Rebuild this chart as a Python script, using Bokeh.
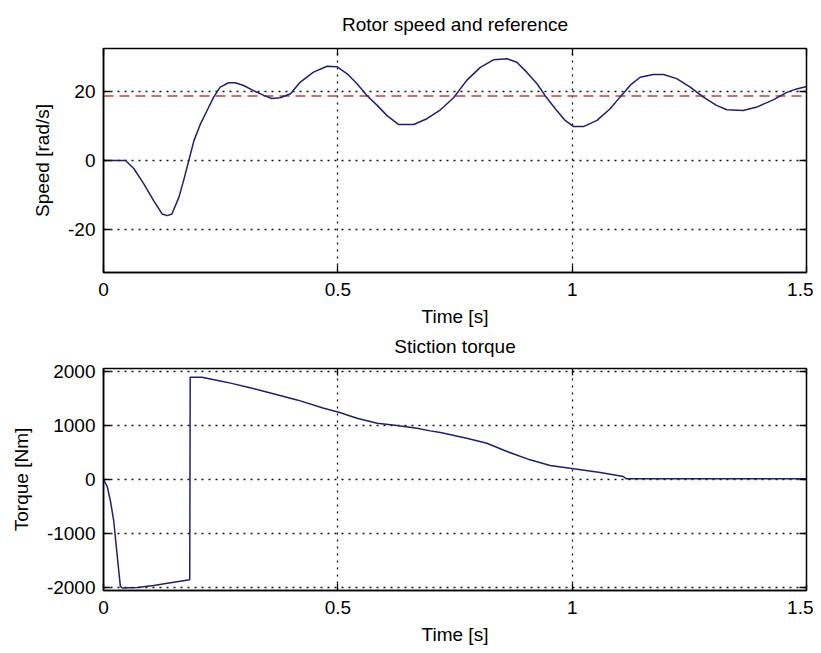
from bokeh.plotting import figure
from bokeh.models import (Range1d, FixedTicker, LinearAxis, CustomJSTickFormatter,
                          CustomLabelingPolicy)
from bokeh.layouts import column
from bokeh.embed import file_html
from bokeh.resources import INLINE

# ---- data ----
speed_t = [0, 0.047, 0.065, 0.086, 0.107, 0.125, 0.136, 0.146, 0.161, 0.171, 0.182,
           0.193, 0.207, 0.221, 0.235, 0.249, 0.267, 0.281, 0.299, 0.320, 0.342, 0.359,
           0.377, 0.399, 0.420, 0.448, 0.477, 0.498, 0.520, 0.541, 0.562, 0.584, 0.605,
           0.630, 0.662, 0.690, 0.719, 0.747, 0.775, 0.804, 0.832, 0.861, 0.882, 0.903,
           0.925, 0.942, 0.964, 0.985, 1.003, 1.024, 1.053, 1.081, 1.102, 1.124, 1.145,
           1.173, 1.195, 1.223, 1.252, 1.280, 1.308, 1.330, 1.365, 1.394, 1.429, 1.458,
           1.479, 1.5]
speed = [0, 0, -2.4, -6.8, -11.7, -15.6, -16.1, -15.6, -10.7, -5.8, 0,
         5.8, 10.7, 14.6, 18.5, 21.4, 22.7, 22.7, 21.9, 20.4, 19.0, 18.1,
         18.3, 19.5, 22.9, 25.8, 27.5, 27.4, 25.3, 22.4, 19.0, 16.1, 13.1,
         10.5, 10.5, 12.2, 14.8, 18.3, 23.4, 27.2, 29.4, 29.7, 28.7, 25.8,
         22.4, 19.0, 15.1, 11.7, 9.9, 9.9, 11.7, 15.1, 18.5, 22.0, 24.3,
         25.1, 25.1, 23.9, 21.4, 18.5, 16.1, 14.8, 14.6, 15.6, 17.7, 19.9,
         20.9, 21.6]
ref_t = [0, 1.5]
ref_speed = [18.8, 18.8]

torque_t = [0, 0.008, 0.015, 0.022, 0.029, 0.036, 0.040, 0.072, 0.107, 0.143, 0.184,
            0.185, 0.210, 0.249, 0.271, 0.306, 0.342, 0.413, 0.470, 0.502, 0.541,
            0.584, 0.626, 0.669, 0.697, 0.719, 0.775, 0.818, 0.861, 0.910, 0.953,
            1.003, 1.060, 1.109, 1.115, 1.5]
torque = [0, -129, -406, -775, -1389, -1974, -2005, -1993, -1956, -1906, -1851,
          1888, 1888, 1820, 1780, 1710, 1630, 1470, 1316, 1242, 1131,
          1039, 996, 947, 898, 867, 762, 670, 517, 363, 258,
          197, 129, 55, 15, 15]

x_ticks = [0, 0.5, 1, 1.5]
speed_ticks = [-20, 0, 20]
torque_ticks = [-2000, -1000, 0, 1000, 2000]

FONT = "Liberation Sans"
FS = "19px"
LINE = "#20206a"
REF = "#d03a3a"

fmt = CustomJSTickFormatter(code="return tick.toString();")
no_labels = CustomLabelingPolicy(code="""
    for (const i of indices)
        indices.unset(i)
    return indices
""")


def tick_only_axis(ticks, font_size, standoff):
    return LinearAxis(ticker=FixedTicker(ticks=ticks), formatter=fmt,
                      major_label_policy=no_labels,
                      major_label_text_font_size=font_size,
                      major_label_standoff=standoff,
                      major_tick_in=7, major_tick_out=0, minor_tick_line_color=None,
                      axis_line_color=None, major_tick_line_width=1.3,
                      major_tick_line_color="black")


def make_fig(title, ylabel, yr, yticks, frame_h, top_b, bottom_b, title_gap):
    p = figure(frame_width=703, frame_height=frame_h,
               x_range=Range1d(0, 1.5), y_range=Range1d(*yr),
               output_backend="svg", toolbar_location=None,
               min_border_left=103, min_border_right=7,
               min_border_top=top_b, min_border_bottom=bottom_b,
               background_fill_color="white", border_fill_color="white")
    p.title.text = title
    p.title.align = "center"
    p.title.text_font = FONT
    p.title.text_font_size = FS
    p.title.text_font_style = "normal"
    p.title.text_color = "black"
    p.title.standoff = 0
    p.outline_line_color = "black"
    p.outline_line_width = 1.5

    p.xaxis.ticker = FixedTicker(ticks=x_ticks)
    p.yaxis.ticker = FixedTicker(ticks=yticks)
    p.xaxis.axis_label = "Time [s]"
    p.yaxis.axis_label = ylabel
    for ax in (p.xaxis, p.yaxis):
        ax.formatter = fmt
        ax.major_label_text_font = FONT
        ax.major_label_text_font_size = FS
        ax.major_label_text_color = "black"
        ax.axis_label_text_font = FONT
        ax.axis_label_text_font_size = FS
        ax.axis_label_text_font_style = "normal"
        ax.axis_label_text_color = "black"
        ax.major_tick_in = 7
        ax.major_tick_out = 0
        ax.minor_tick_line_color = None
        ax.major_tick_line_color = "black"
        ax.major_tick_line_width = 1.3
        ax.axis_line_color = "black"
        ax.axis_line_width = 1.5
    p.xaxis.major_label_standoff = 10
    p.yaxis.major_label_standoff = 8
    p.xaxis.axis_label_standoff = 7
    p.yaxis.axis_label_standoff = 12

    # tick marks on the top and right edges (no labels); the top one also
    # sets the gap between the frame and the title
    p.add_layout(tick_only_axis(x_ticks, "1px", title_gap), "above")
    p.add_layout(tick_only_axis(yticks, "0px", 0), "right")

    p.xgrid.ticker = FixedTicker(ticks=x_ticks)
    p.ygrid.ticker = FixedTicker(ticks=yticks)
    for g in (p.xgrid, p.ygrid):
        g.grid_line_color = "#111111"
        g.grid_line_dash = "2 5"
        g.grid_line_width = 1.3
    return p


p1 = make_fig("Rotor speed and reference", "Speed [rad/s]", (-32.7, 32.7),
              speed_ticks, 224, 48, 61, 10)
p1.line(ref_t, ref_speed, line_color=REF, line_width=1.5, line_dash="10 6")
p1.line(speed_t, speed, line_color=LINE, line_width=1.5)

p2 = make_fig("Stiction torque", "Torque [Nm]", (-2050, 2050),
              torque_ticks, 222, 30, 50, 8)
p2.line(torque_t, torque, line_color=LINE, line_width=1.5)

layout = column(p1, p2, spacing=0)
open("out.html", "w").write(file_html(layout, INLINE))
